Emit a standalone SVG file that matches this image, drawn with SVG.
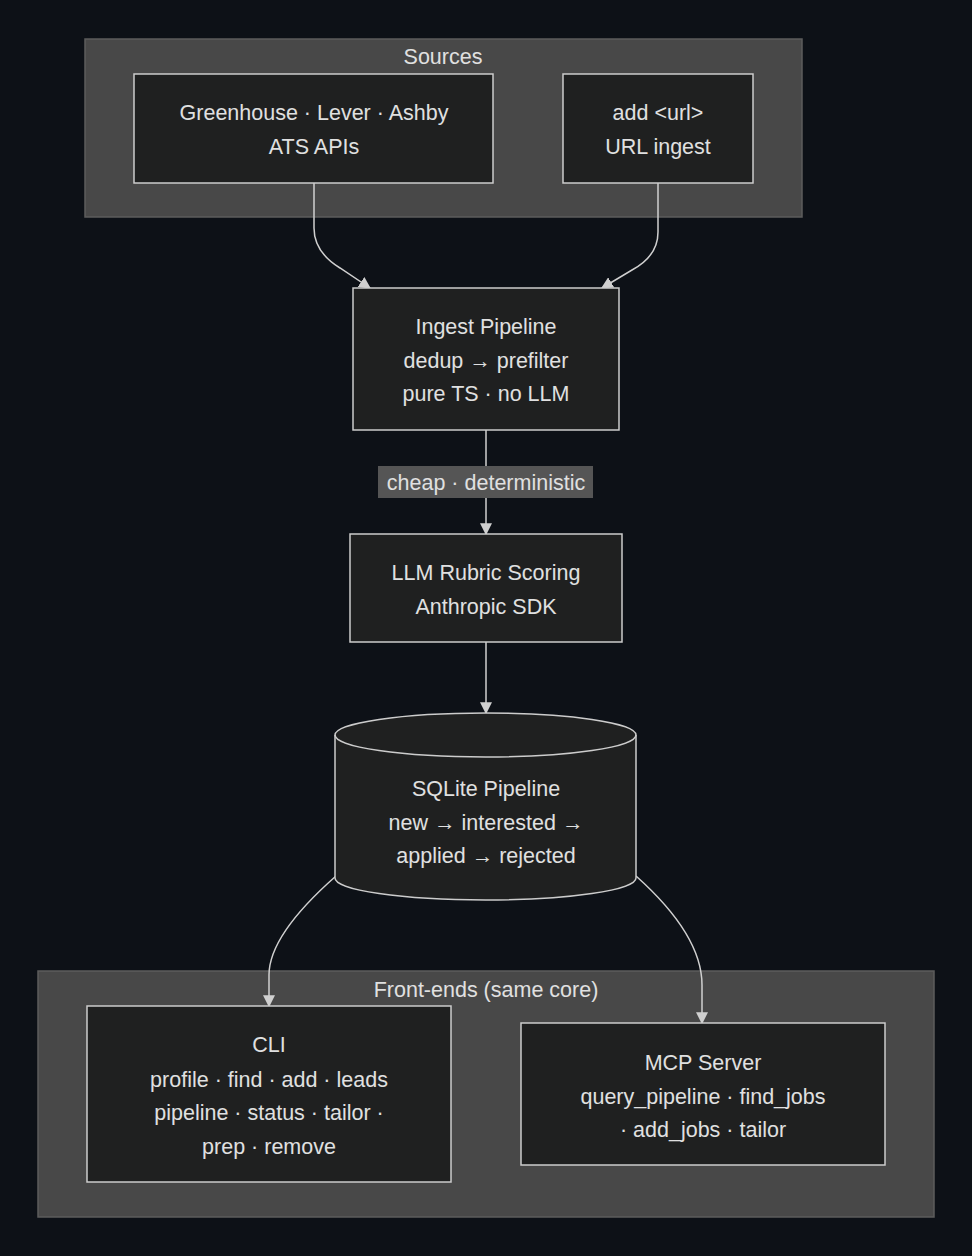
<svg xmlns="http://www.w3.org/2000/svg" width="972" height="1256" viewBox="0 0 972 1256">
<style>
.cluster{fill:#484848;stroke:#5c5c5c;stroke-width:1.5}
.node{fill:#1f2020;stroke:#cccccc;stroke-width:1.5}
.t{font-family:"Liberation Sans",Arial,sans-serif;font-size:21.5px;fill:#e0e0e0;text-anchor:middle}
.edge{fill:none;stroke:#d0d0d0;stroke-width:1.5}
</style>
<defs>
<marker id="arr" viewBox="0 0 10 10" refX="9" refY="5" markerWidth="12" markerHeight="12" markerUnits="userSpaceOnUse" orient="auto">
<path d="M0,0 L10,5 L0,10 z" fill="#d0d0d0"/>
</marker>
</defs>
<rect width="972" height="1256" fill="#0d1117"/>
<g id="sources">
<rect class="cluster" x="85" y="39" width="717" height="178"/>
<text class="t" x="443" y="64">Sources</text>
</g>
<g id="frontends">
<rect class="cluster" x="38" y="971" width="896" height="246"/>
<text class="t" x="486" y="997">Front-ends (same core)</text>
</g>
<g id="edges">
<path class="edge" d="M314,183 L314,228 Q314,252 340,268 L370,288" marker-end="url(#arr)"/>
<path class="edge" d="M658,183 L658,232 Q658,256 632,270 L602,288" marker-end="url(#arr)"/>
<path class="edge" d="M486,430 L486,534" marker-end="url(#arr)"/>
<rect x="378" y="466" width="215" height="32" fill="#555555"/>
<text class="t" x="486" y="490">cheap · deterministic</text>
<path class="edge" d="M486,642 L486,713" marker-end="url(#arr)"/>
<path class="edge" d="M336,876 Q269,935 269,975 L269,1006" marker-end="url(#arr)"/>
<path class="edge" d="M636,876 Q702,935 702,985 L702,1023" marker-end="url(#arr)"/>
</g>
<g id="ats">
<rect class="node" x="134" y="74" width="359" height="109"/>
<text class="t" x="314" y="120">Greenhouse · Lever · Ashby</text>
<text class="t" x="314" y="154">ATS APIs</text>
</g>
<g id="url">
<rect class="node" x="563" y="74" width="190" height="109"/>
<text class="t" x="658" y="120">add &lt;url&gt;</text>
<text class="t" x="658" y="154">URL ingest</text>
</g>
<g id="ingest">
<rect class="node" x="353" y="288" width="266" height="142"/>
<text class="t" x="486" y="334">Ingest Pipeline</text>
<text class="t" x="486" y="368">dedup → prefilter</text>
<text class="t" x="486" y="401">pure TS · no LLM</text>
</g>
<g id="llm">
<rect class="node" x="350" y="534" width="272" height="108"/>
<text class="t" x="486" y="580">LLM Rubric Scoring</text>
<text class="t" x="486" y="614">Anthropic SDK</text>
</g>
<g id="sqlite">
<path class="node" d="M335,735 A150.5,22 0 0 1 636,735 L636,878 A150.5,22 0 0 1 335,878 Z"/>
<path class="node" style="fill:none" d="M335,735 A150.5,22 0 0 0 636,735"/>
<text class="t" x="486" y="796">SQLite Pipeline</text>
<text class="t" x="486" y="830">new → interested →</text>
<text class="t" x="486" y="863">applied → rejected</text>
</g>
<g id="cli">
<rect class="node" x="87" y="1006" width="364" height="176"/>
<text class="t" x="269" y="1052">CLI</text>
<text class="t" x="269" y="1087">profile · find · add · leads</text>
<text class="t" x="269" y="1120">pipeline · status · tailor ·</text>
<text class="t" x="269" y="1154">prep · remove</text>
</g>
<g id="mcp">
<rect class="node" x="521" y="1023" width="364" height="142"/>
<text class="t" x="703" y="1070">MCP Server</text>
<text class="t" x="703" y="1104">query_pipeline · find_jobs</text>
<text class="t" x="703" y="1137">· add_jobs · tailor</text>
</g>
</svg>
